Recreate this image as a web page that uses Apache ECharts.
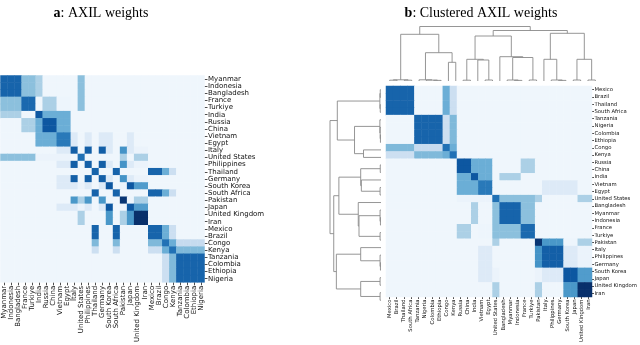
<!DOCTYPE html>
<html>
<head>
<meta charset="utf-8">
<script src="https://cdn.jsdelivr.net/npm/echarts@6/dist/echarts.min.js"></script>
<style>
html, body { margin: 0; padding: 0; background: #fff; }
#main { width: 640px; height: 345px; }
</style>
</head>
<body>
<div id="main"></div>
<script>
// panel a: original country order
const orderA = ['Myanmar', 'Indonesia', 'Bangladesh', 'France', 'Turkiye', 'India', 'Russia', 'China',
  'Vietnam', 'Egypt', 'Italy', 'United States', 'Philippines', 'Thailand', 'Germany', 'South Korea',
  'South Africa', 'Pakistan', 'Japan', 'United Kingdom', 'Iran', 'Mexico', 'Brazil', 'Congo', 'Kenya',
  'Tanzania', 'Colombia', 'Ethiopia', 'Nigeria'];

// panel b: leaf order of the clustering
const orderB = ['Mexico', 'Brazil', 'Thailand', 'South Africa', 'Tanzania', 'Nigeria', 'Colombia',
  'Ethiopia', 'Congo', 'Kenya', 'Russia', 'China', 'India', 'Vietnam', 'Egypt', 'United States',
  'Bangladesh', 'Myanmar', 'Indonesia', 'France', 'Turkiye', 'Pakistan', 'Italy', 'Philippines',
  'Germany', 'South Korea', 'Japan', 'United Kingdom', 'Iran'];

// AXIL weights, rows and columns in orderB
const weights = [
  [.80,.80,.80,.80,.04,.04,.04,.04,.50,.22,.04,.04,.04,.04,.04,.04,.04,.04,.04,.04,.04,.04,.04,.04,.04,.04,.04,.04,.04], // Mexico
  [.80,.80,.80,.80,.04,.04,.04,.04,.50,.22,.04,.04,.04,.04,.04,.04,.04,.04,.04,.04,.04,.04,.04,.04,.04,.04,.04,.04,.04], // Brazil
  [.80,.80,.80,.80,.04,.04,.04,.04,.50,.22,.04,.04,.04,.04,.04,.04,.04,.04,.04,.04,.04,.04,.04,.04,.04,.04,.04,.04,.04], // Thailand
  [.80,.80,.80,.80,.04,.04,.04,.04,.50,.22,.04,.04,.04,.04,.04,.04,.04,.04,.04,.04,.04,.04,.04,.04,.04,.04,.04,.04,.04], // South Africa
  [.04,.04,.04,.04,.80,.80,.80,.80,.22,.45,.04,.04,.04,.04,.04,.04,.04,.04,.04,.04,.04,.04,.04,.04,.04,.04,.04,.04,.04], // Tanzania
  [.04,.04,.04,.04,.80,.80,.80,.80,.22,.45,.04,.04,.04,.04,.04,.04,.04,.04,.04,.04,.04,.04,.04,.04,.04,.04,.04,.04,.04], // Nigeria
  [.04,.04,.04,.04,.80,.80,.80,.80,.22,.45,.04,.04,.04,.04,.04,.04,.04,.04,.04,.04,.04,.04,.04,.04,.04,.04,.04,.04,.04], // Colombia
  [.04,.04,.04,.04,.80,.80,.80,.80,.22,.45,.04,.04,.04,.04,.04,.04,.04,.04,.04,.04,.04,.04,.04,.04,.04,.04,.04,.04,.04], // Ethiopia
  [.45,.45,.45,.45,.25,.25,.25,.25,.75,.50,.04,.04,.04,.04,.04,.04,.04,.04,.04,.04,.04,.04,.04,.04,.04,.04,.04,.04,.04], // Congo
  [.22,.22,.22,.22,.45,.45,.45,.45,.50,.75,.04,.04,.04,.04,.04,.04,.04,.04,.04,.04,.04,.04,.04,.04,.04,.04,.04,.04,.04], // Kenya
  [.04,.04,.04,.04,.04,.04,.04,.04,.04,.04,.85,.85,.50,.50,.50,.04,.04,.04,.04,.33,.33,.04,.04,.04,.04,.04,.04,.04,.04], // Russia
  [.04,.04,.04,.04,.04,.04,.04,.04,.04,.04,.85,.85,.50,.50,.50,.04,.04,.04,.04,.33,.33,.04,.04,.04,.04,.04,.04,.04,.04], // China
  [.04,.04,.04,.04,.04,.04,.04,.04,.04,.04,.50,.50,.85,.50,.50,.04,.33,.33,.33,.04,.04,.04,.04,.04,.04,.04,.04,.04,.04], // India
  [.04,.04,.04,.04,.04,.04,.04,.04,.04,.04,.50,.50,.50,.72,.72,.04,.04,.04,.04,.04,.04,.04,.13,.13,.13,.13,.13,.04,.04], // Vietnam
  [.04,.04,.04,.04,.04,.04,.04,.04,.04,.04,.50,.50,.50,.72,.72,.04,.04,.04,.04,.04,.04,.04,.13,.13,.13,.13,.13,.04,.04], // Egypt
  [.04,.04,.04,.04,.04,.04,.04,.04,.04,.04,.06,.06,.06,.06,.06,.75,.42,.42,.42,.42,.42,.33,.04,.04,.04,.04,.04,.33,.33], // United States
  [.04,.04,.04,.04,.04,.04,.04,.04,.04,.04,.04,.04,.33,.04,.04,.42,.80,.80,.80,.42,.42,.04,.04,.04,.04,.04,.04,.04,.04], // Bangladesh
  [.04,.04,.04,.04,.04,.04,.04,.04,.04,.04,.04,.04,.33,.04,.04,.42,.80,.80,.80,.42,.42,.04,.04,.04,.04,.04,.04,.04,.04], // Myanmar
  [.04,.04,.04,.04,.04,.04,.04,.04,.04,.04,.04,.04,.33,.04,.04,.42,.80,.80,.80,.42,.42,.04,.04,.04,.04,.04,.04,.04,.04], // Indonesia
  [.04,.04,.04,.04,.04,.04,.04,.04,.04,.04,.33,.33,.04,.05,.05,.42,.42,.42,.42,.78,.78,.04,.04,.04,.04,.04,.04,.04,.04], // France
  [.04,.04,.04,.04,.04,.04,.04,.04,.04,.04,.33,.33,.04,.05,.05,.42,.42,.42,.42,.78,.78,.04,.04,.04,.04,.04,.04,.04,.04], // Turkiye
  [.04,.04,.04,.04,.04,.04,.04,.04,.04,.04,.04,.04,.04,.04,.04,.33,.04,.04,.04,.04,.04,.98,.60,.60,.60,.05,.05,.33,.33], // Pakistan
  [.04,.04,.04,.04,.04,.04,.04,.04,.04,.04,.04,.04,.04,.13,.13,.04,.04,.04,.04,.04,.04,.62,.82,.82,.82,.13,.13,.06,.06], // Italy
  [.04,.04,.04,.04,.04,.04,.04,.04,.04,.04,.04,.04,.04,.13,.13,.04,.04,.04,.04,.04,.04,.62,.82,.82,.82,.13,.13,.06,.06], // Philippines
  [.04,.04,.04,.04,.04,.04,.04,.04,.04,.04,.04,.04,.04,.13,.13,.04,.04,.04,.04,.04,.04,.62,.82,.82,.82,.13,.13,.06,.06], // Germany
  [.04,.04,.04,.04,.04,.04,.04,.04,.04,.04,.04,.04,.04,.13,.13,.06,.04,.04,.04,.04,.04,.06,.13,.13,.13,.85,.85,.58,.58], // South Korea
  [.04,.04,.04,.04,.04,.04,.04,.04,.04,.04,.04,.04,.04,.13,.13,.06,.04,.04,.04,.04,.04,.06,.13,.13,.13,.85,.85,.58,.58], // Japan
  [.04,.04,.04,.04,.04,.04,.04,.04,.04,.04,.04,.04,.04,.04,.04,.33,.04,.04,.04,.04,.04,.33,.04,.04,.04,.60,.60,1.0,1.0], // United Kingdom
  [.04,.04,.04,.04,.04,.04,.04,.04,.04,.04,.04,.04,.04,.04,.04,.33,.04,.04,.04,.04,.04,.33,.04,.04,.04,.60,.60,1.0,1.0]  // Iran
];

// linkage: [node, childA, childB, height]
const merges = [
  ['M1', 'Mexico', 'Brazil', 0.8],
  ['M2', 'Thailand', 'South Africa', 0.8],
  ['M', 'M1', 'M2', 1.2],
  ['T1', 'Colombia', 'Ethiopia', 0.6],
  ['T2', 'Nigeria', 'T1', 0.9],
  ['T', 'Tanzania', 'T2', 1.2],
  ['CK', 'Congo', 'Kenya', 18.7],
  ['TCK', 'T', 'CK', 28.3],
  ['L', 'M', 'TCK', 46.7],
  ['RC', 'Russia', 'China', 0.8],
  ['VE', 'Vietnam', 'Egypt', 1.0],
  ['IVE', 'India', 'VE', 21.0],
  ['A', 'RC', 'IVE', 21.7],
  ['MI', 'Myanmar', 'Indonesia', 0.6],
  ['BMI', 'Bangladesh', 'MI', 1.0],
  ['FT', 'France', 'Turkiye', 1.0],
  ['BF', 'BMI', 'FT', 23.5],
  ['U', 'United States', 'BF', 24.3],
  ['Mid', 'A', 'U', 45.0],
  ['PG', 'Philippines', 'Germany', 0.6],
  ['IPG', 'Italy', 'PG', 1.0],
  ['P', 'Pakistan', 'IPG', 21.7],
  ['SJ', 'South Korea', 'Japan', 1.0],
  ['UI', 'United Kingdom', 'Iran', 1.0],
  ['S', 'SJ', 'UI', 21.7],
  ['R', 'P', 'S', 47.7],
  ['BR', 'Mid', 'R', 50.5],
  ['Root', 'L', 'BR', 54.5]
];

const blues = ['#f7fbff', '#deebf7', '#c6dbef', '#9ecae1', '#6baed6', '#4292c6', '#2171b5', '#08519c', '#08306b'];

var heatA = [];
for (var i = 0; i < orderA.length; i++) {
  for (var j = 0; j < orderA.length; j++) {
    var r = orderB.indexOf(orderA[i]), c = orderB.indexOf(orderA[j]);
    heatA.push([j, i, weights[r][c]]);
  }
}
var heatB = [];
for (var i = 0; i < orderB.length; i++) {
  for (var j = 0; j < orderB.length; j++) {
    heatB.push([j, i, weights[i][j]]);
  }
}

// dendrogram segments (position along leaves, height)
var pos = {}, hgt = {};
orderB.forEach(function (n, k) { pos[n] = k + 0.5; hgt[n] = 0; });
var links = [];
merges.forEach(function (m) {
  var a = m[1], b = m[2], h = m[3];
  links.push([[pos[a], hgt[a]], [pos[a], h], [pos[b], h], [pos[b], hgt[b]]]);
  pos[m[0]] = (pos[a] + pos[b]) / 2;
  hgt[m[0]] = h;
});
var topLinks = links.map(function (l) { return { coords: l }; });
var sideLinks = links.map(function (l) { return { coords: l.map(function (p) { return [p[1], p[0]]; }) }; });

var font = 'DejaVu Sans';
function catAxis(data, grid, pos, size, rotate, inverse) {
  var big = size > 6;
  return {
    type: 'category', data: data, gridIndex: grid, position: pos, inverse: inverse,
    axisLine: { show: false },
    axisTick: { show: true, alignWithLabel: true, length: big ? 3 : 2, lineStyle: { color: '#222', width: 0.8 } },
    axisLabel: { interval: 0, rotate: rotate, fontSize: size, margin: big ? 3.5 : 2.5, color: '#111', fontFamily: font },
    splitLine: { show: false }
  };
}
function valAxis(grid, max, inverse) {
  return { type: 'value', gridIndex: grid, min: 0, max: max, inverse: inverse, show: false, splitLine: { show: false } };
}

var chart = echarts.init(document.getElementById('main'), null, { renderer: 'canvas' });
var option = {
  animation: false,
  backgroundColor: '#fff',
  graphic: [
    { type: 'text', x: 101, y: 13, style: { text: '{b|a}: AXIL weights', align: 'center', verticalAlign: 'middle',
      fontFamily: 'Liberation Serif', fontSize: 14, fill: '#000',
      rich: { b: { fontWeight: 'bold', fontFamily: 'Liberation Serif', fontSize: 14 } } } },
    { type: 'text', x: 481, y: 13, style: { text: '{b|b}: Clustered AXIL weights', align: 'center', verticalAlign: 'middle',
      fontFamily: 'Liberation Serif', fontSize: 14, fill: '#000',
      rich: { b: { fontWeight: 'bold', fontFamily: 'Liberation Serif', fontSize: 14 } } } }
  ],
  grid: [
    { left: 0.5, top: 75.5, width: 204, height: 208 },
    { left: 386, top: 86, width: 213, height: 218 },
    { left: 386, top: 26.5, width: 213, height: 54.5 },
    { left: 330, top: 86, width: 51, height: 218 }
  ],
  xAxis: [
    catAxis(orderA, 0, 'bottom', 7, 90, false),
    catAxis(orderB, 1, 'bottom', 5.3, 90, false),
    valAxis(2, orderB.length, false),
    valAxis(3, 54.5, true)
  ],
  yAxis: [
    catAxis(orderA, 0, 'right', 7, 0, true),
    catAxis(orderB, 1, 'right', 5.3, 0, true),
    valAxis(2, 54.5, false),
    valAxis(3, orderB.length, true)
  ],
  visualMap: {
    show: false, type: 'continuous', min: 0, max: 1, seriesIndex: [0, 1], dimension: 2,
    inRange: { color: blues }
  },
  series: [
    { type: 'heatmap', xAxisIndex: 0, yAxisIndex: 0, data: heatA, emphasis: { disabled: true } },
    { type: 'heatmap', xAxisIndex: 1, yAxisIndex: 1, data: heatB, emphasis: { disabled: true } },
    { type: 'lines', coordinateSystem: 'cartesian2d', xAxisIndex: 2, yAxisIndex: 2, polyline: true,
      data: topLinks, lineStyle: { color: '#8a8a8a', width: 0.9, opacity: 1 }, silent: true },
    { type: 'lines', coordinateSystem: 'cartesian2d', xAxisIndex: 3, yAxisIndex: 3, polyline: true,
      data: sideLinks, lineStyle: { color: '#8a8a8a', width: 0.9, opacity: 1 }, silent: true }
  ]
};
chart.setOption(option);
</script>
</body>
</html>
